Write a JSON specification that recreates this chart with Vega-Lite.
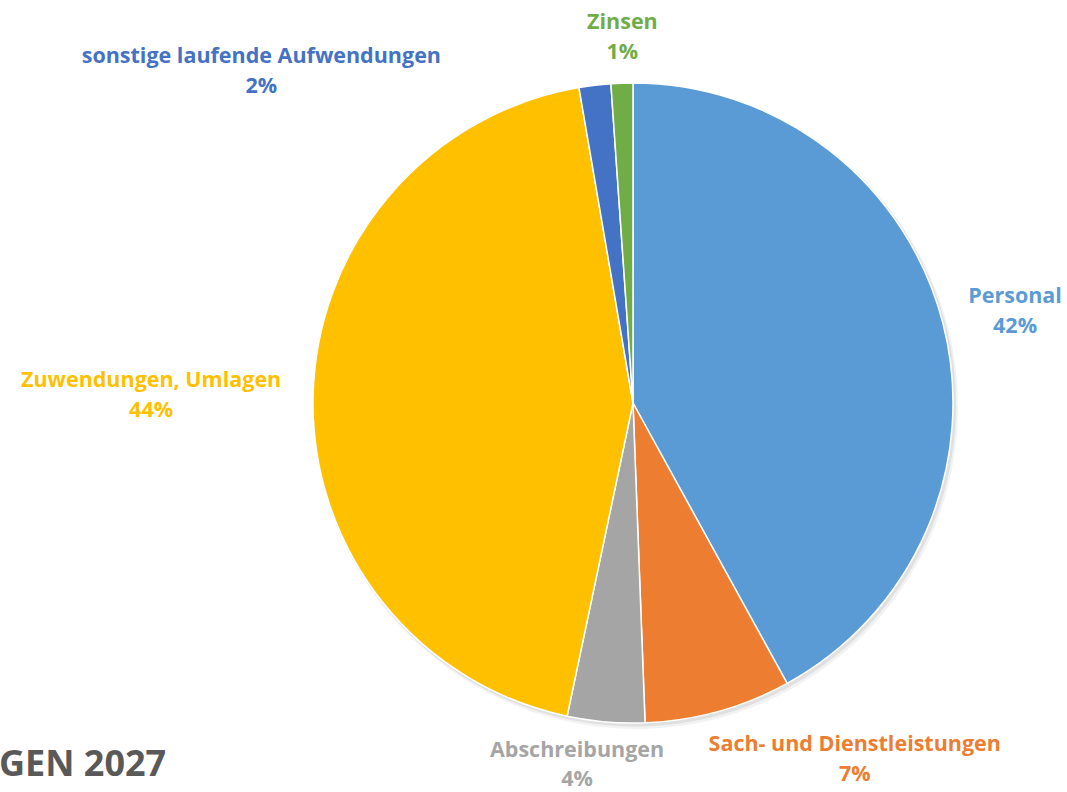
{
  "$schema": "https://vega.github.io/schema/vega-lite/v6.json",
  "width": 640,
  "height": 640,
  "autosize": {"type": "none"},
  "padding": {"left": 313, "top": 83, "right": 114, "bottom": 69},
  "background": "white",
  "config": {"view": {"stroke": null}, "font": "Open Sans"},
  "title": {"text": "GEN 2027", "orient": "bottom", "anchor": "start", "frame": "group", "dx": -314, "offset": -138, "fontSize": 36, "fontWeight": "bold", "color": "#595959", "font": "Open Sans", "baseline": "alphabetic"},
  "data": {"values": [
    {"order": 1, "cat": "Personal", "share": 0.420},
    {"order": 2, "cat": "Sach- und Dienstleistungen", "share": 0.074},
    {"order": 3, "cat": "Abschreibungen", "share": 0.039},
    {"order": 4, "cat": "Zuwendungen, Umlagen", "share": 0.440},
    {"order": 5, "cat": "sonstige laufende Aufwendungen", "share": 0.016},
    {"order": 6, "cat": "Zinsen", "share": 0.011}
  ]},
  "encoding": {
    "theta": {"field": "share", "type": "quantitative", "stack": true},
    "order": {"field": "order", "type": "quantitative"},
    "color": {"field": "cat", "type": "nominal", "legend": null, "scale": {
      "domain": ["Personal", "Sach- und Dienstleistungen", "Abschreibungen", "Zuwendungen, Umlagen", "sonstige laufende Aufwendungen", "Zinsen"],
      "range": ["#5B9BD5", "#ED7D31", "#A5A5A5", "#FFC000", "#4472C4", "#70AD47"]}}
  },
  "layer": [
    {"mark": {"type": "arc", "outerRadius": 322, "xOffset": 3, "yOffset": 4, "opacity": 0.05, "color": "#000000"}, "encoding": {"color": {"value": "#000000"}}},
    {"mark": {"type": "arc", "outerRadius": 321, "xOffset": 2, "yOffset": 2.5, "opacity": 0.07, "color": "#000000"}, "encoding": {"color": {"value": "#000000"}}},
    {"mark": {"type": "arc", "outerRadius": 320, "stroke": "white", "strokeWidth": 1.5}},
    {"mark": {"type": "text", "radius": 380, "dx": 14, "dy": -11, "fontSize": 21.5, "fontWeight": "bold", "baseline": "middle", "align": "center"},
     "encoding": {"text": {"condition": {"test": "datum.cat === 'Personal'", "field": "cat"}, "value": ""}}},
    {"mark": {"type": "text", "radius": 380, "dx": 14, "dy": 19, "fontSize": 21.5, "fontWeight": "bold", "baseline": "middle", "align": "center"},
     "encoding": {"text": {"condition": {"test": "datum.cat === 'Personal'", "field": "share", "format": ".0%"}, "value": ""}}},
    {"mark": {"type": "text", "radius": 370, "dx": 123, "dy": -15, "fontSize": 21.5, "fontWeight": "bold", "baseline": "middle", "align": "center"},
     "encoding": {"text": {"condition": {"test": "datum.cat === 'Sach- und Dienstleistungen'", "field": "cat"}, "value": ""}}},
    {"mark": {"type": "text", "radius": 370, "dx": 123, "dy": 15, "fontSize": 21.5, "fontWeight": "bold", "baseline": "middle", "align": "center"},
     "encoding": {"text": {"condition": {"test": "datum.cat === 'Sach- und Dienstleistungen'", "field": "share", "format": ".0%"}, "value": ""}}},
    {"mark": {"type": "text", "radius": 365, "dx": -25, "dy": -16, "fontSize": 21.5, "fontWeight": "bold", "baseline": "middle", "align": "center"},
     "encoding": {"text": {"condition": {"test": "datum.cat === 'Abschreibungen'", "field": "cat"}, "value": ""}}},
    {"mark": {"type": "text", "radius": 365, "dx": -25, "dy": 13, "fontSize": 21.5, "fontWeight": "bold", "baseline": "middle", "align": "center"},
     "encoding": {"text": {"condition": {"test": "datum.cat === 'Abschreibungen'", "field": "share", "format": ".0%"}, "value": ""}}},
    {"mark": {"type": "text", "radius": 485, "dx": 3, "dy": -13, "fontSize": 21.5, "fontWeight": "bold", "baseline": "middle", "align": "center"},
     "encoding": {"text": {"condition": {"test": "datum.cat === 'Zuwendungen, Umlagen'", "field": "cat"}, "value": ""}}},
    {"mark": {"type": "text", "radius": 485, "dx": 3, "dy": 17, "fontSize": 21.5, "fontWeight": "bold", "baseline": "middle", "align": "center"},
     "encoding": {"text": {"condition": {"test": "datum.cat === 'Zuwendungen, Umlagen'", "field": "share", "format": ".0%"}, "value": ""}}},
    {"mark": {"type": "text", "radius": 333, "dx": -332, "dy": -15, "fontSize": 21.5, "fontWeight": "bold", "baseline": "middle", "align": "center"},
     "encoding": {"text": {"condition": {"test": "datum.cat === 'sonstige laufende Aufwendungen'", "field": "cat"}, "value": ""}}},
    {"mark": {"type": "text", "radius": 333, "dx": -332, "dy": 15, "fontSize": 21.5, "fontWeight": "bold", "baseline": "middle", "align": "center"},
     "encoding": {"text": {"condition": {"test": "datum.cat === 'sonstige laufende Aufwendungen'", "field": "share", "format": ".0%"}, "value": ""}}},
    {"mark": {"type": "text", "radius": 365, "dx": 2, "dy": -15, "fontSize": 21.5, "fontWeight": "bold", "baseline": "middle", "align": "center"},
     "encoding": {"text": {"condition": {"test": "datum.cat === 'Zinsen'", "field": "cat"}, "value": ""}}},
    {"mark": {"type": "text", "radius": 365, "dx": 2, "dy": 15, "fontSize": 21.5, "fontWeight": "bold", "baseline": "middle", "align": "center"},
     "encoding": {"text": {"condition": {"test": "datum.cat === 'Zinsen'", "field": "share", "format": ".0%"}, "value": ""}}}
  ]
}
